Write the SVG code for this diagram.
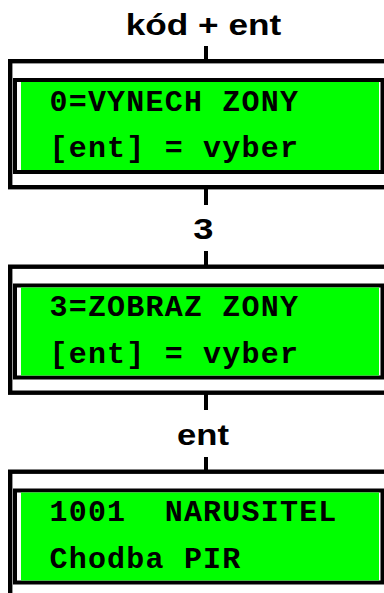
<svg xmlns="http://www.w3.org/2000/svg" width="384" height="593" viewBox="0 0 384 593">
<style>
.outer{fill:#fff;stroke:#000;stroke-width:4.4}
.inner{fill:#fff;stroke:#000;stroke-width:4}
.lcd{fill:#00ff00}
.mono{font-family:"Courier New","Liberation Mono",monospace;font-weight:bold;font-size:30px;letter-spacing:1.2px;fill:#000;white-space:pre}
.lbl{font-family:Arial,"Liberation Sans",sans-serif;font-weight:bold;font-size:29px;fill:#000}
.conn{stroke:#000;stroke-width:4;fill:none}
</style>
<rect width="384" height="593" fill="#fff"/>
<g id="connectors">
<line class="conn" x1="206" y1="46" x2="206" y2="61"/>
<line class="conn" x1="206" y1="189" x2="206" y2="205"/>
<line class="conn" x1="206" y1="251" x2="206" y2="266"/>
<line class="conn" x1="206" y1="394" x2="206" y2="410"/>
<line class="conn" x1="206" y1="457" x2="206" y2="471"/>
<text class="lbl" x="125.8" y="35" textLength="155.4" lengthAdjust="spacingAndGlyphs">kód + ent</text>
<text class="lbl" x="193.3" y="238.5" textLength="20.2" lengthAdjust="spacingAndGlyphs">3</text>
<text class="lbl" x="177.1" y="445" textLength="51.9" lengthAdjust="spacingAndGlyphs">ent</text>
</g>
<g id="node1">
<rect class="outer" x="10.2" y="61.2" width="400" height="126"/>
<rect class="inner" x="15" y="80" width="367.5" height="92"/>
<rect class="lcd" x="21" y="82" width="358" height="88"/>
<text class="mono" x="49.5" y="110.5">0=VYNECH ZONY</text>
<text class="mono" x="49.5" y="157">[ent] = vyber</text>
</g>
<g id="node2" transform="translate(0,205.5)">
<rect class="outer" x="10.2" y="61.2" width="400" height="126"/>
<rect class="inner" x="15" y="80" width="367.5" height="92"/>
<rect class="lcd" x="21" y="82" width="358" height="88"/>
<text class="mono" x="49.5" y="110.5">3=ZOBRAZ ZONY</text>
<text class="mono" x="49.5" y="157">[ent] = vyber</text>
</g>
<g id="node3" transform="translate(0,410.5)">
<rect class="outer" x="10.2" y="61.2" width="400" height="126"/>
<rect class="inner" x="15" y="80" width="367.5" height="92"/>
<rect class="lcd" x="21" y="82" width="358" height="88"/>
<text class="mono" x="49.5" y="110.5">1001  NARUSITEL</text>
<text class="mono" x="49.5" y="157">Chodba PIR</text>
</g>
</svg>
